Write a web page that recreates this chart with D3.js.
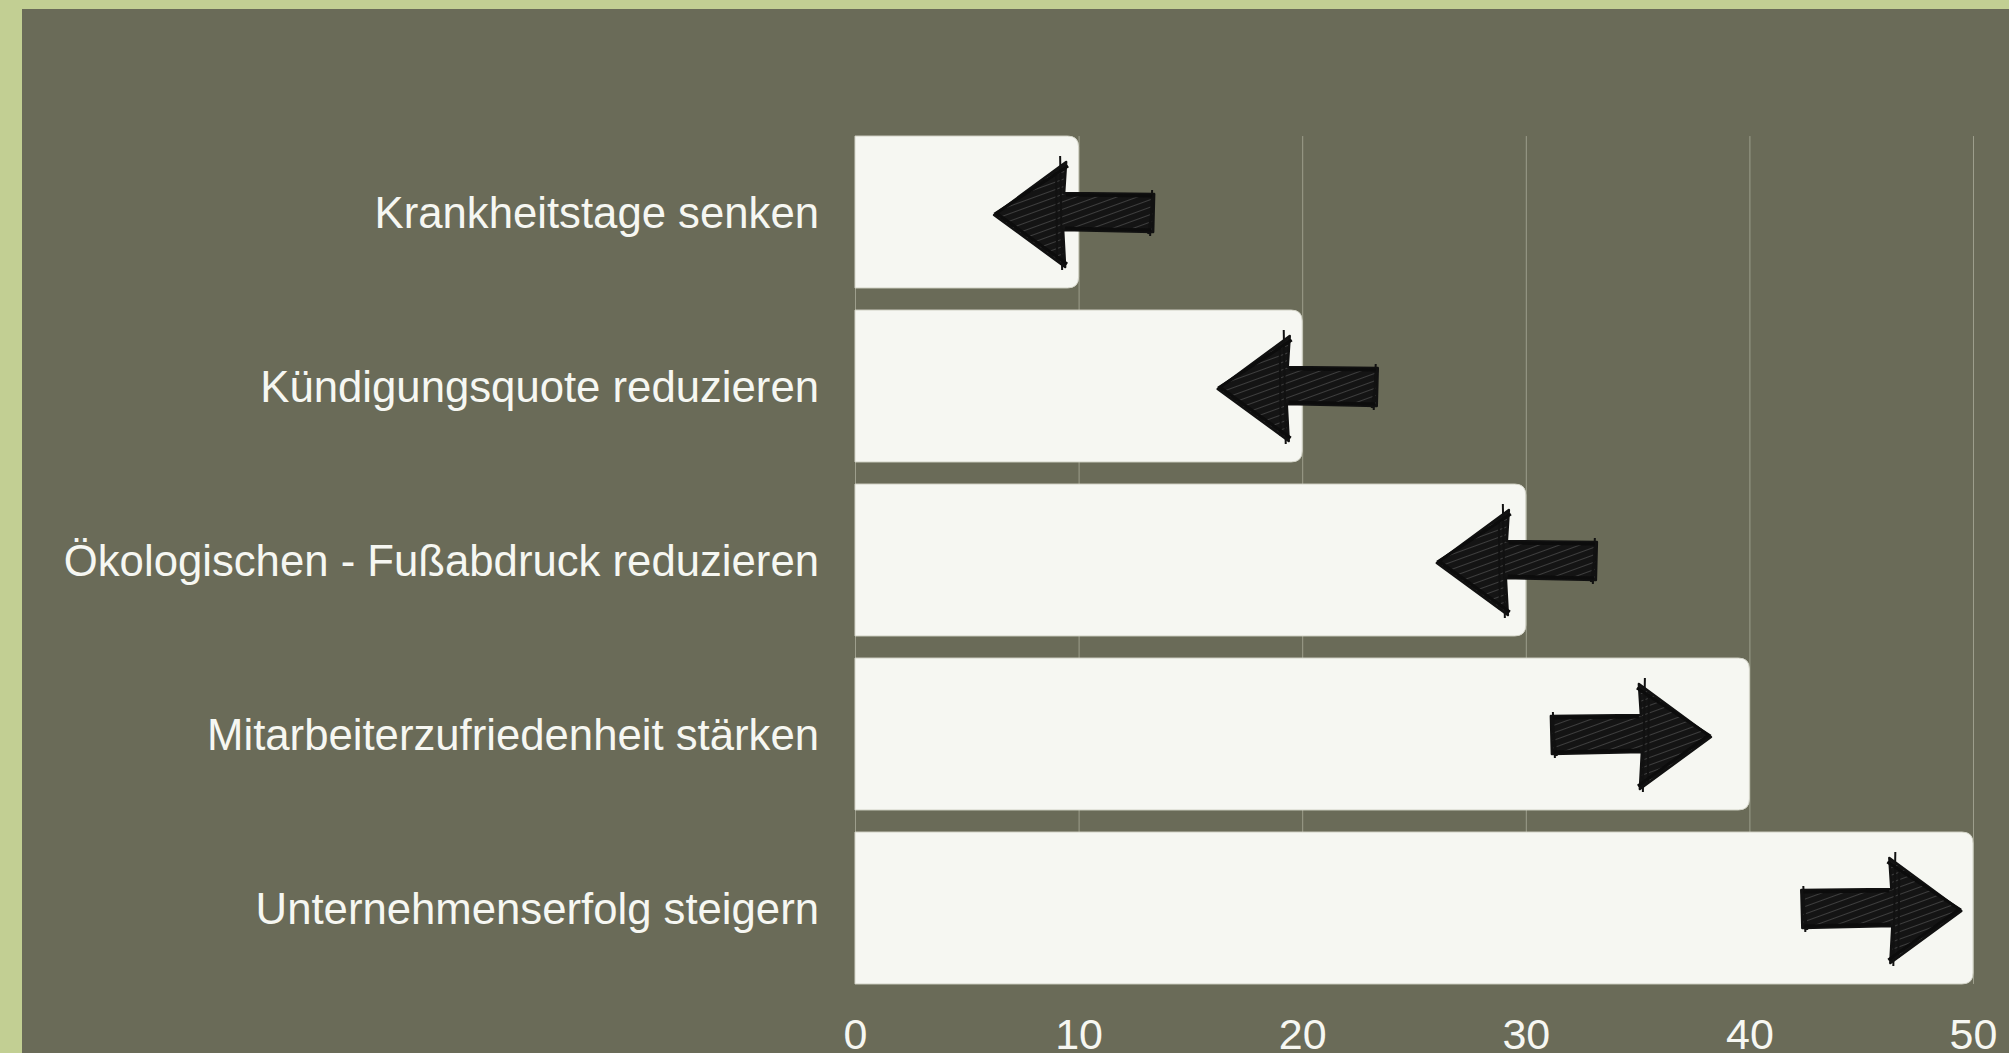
<!DOCTYPE html>
<html>
<head>
<meta charset="utf-8">
<script src="https://cdn.jsdelivr.net/npm/d3@7"></script>
<style>
  html, body { margin: 0; padding: 0; background: #c2cf93; }
  svg { display: block; }
</style>
</head>
<body>
<div id="chart"></div>
<script>
const categories = [
  'Krankheitstage senken',
  'Kündigungsquote reduzieren',
  'Ökologischen - Fußabdruck reduzieren',
  'Mitarbeiterzufriedenheit stärken',
  'Unternehmenserfolg steigern'
]
const values = [10, 20, 30, 40, 50]
// where the sketched arrow sits on each bar, and which way it points
const arrowAt = [9.8, 19.8, 29.6, 34.7, 45.9]
const arrowDir = ['left', 'left', 'left', 'right', 'right']
const xTicks = [0, 10, 20, 30, 40, 50]

const W = 2009, H = 1053

const svg = d3.select('#chart').append('svg')
  .attr('width', W)
  .attr('height', H)

// green frame + dark panel
svg.append('rect').attr('width', W).attr('height', H).attr('fill', '#c2cf93')
svg.append('rect').attr('x', 22).attr('y', 9).attr('width', W - 22).attr('height', H - 9).attr('fill', '#6a6b58')

const defs = svg.append('defs')
const hatch = defs.append('pattern')
  .attr('id', 'hatch')
  .attr('patternUnits', 'userSpaceOnUse')
  .attr('width', 7).attr('height', 7)
  .attr('patternTransform', 'rotate(70)')
hatch.append('rect').attr('width', 7).attr('height', 7).attr('fill', '#141414')
hatch.append('line').attr('x1', 0).attr('y1', 0).attr('x2', 0).attr('y2', 7)
  .attr('stroke', '#555', ).attr('stroke-width', 1.3)

const x = d3.scaleLinear().domain([0, 50]).range([855, 1973])
const y = d3.scaleBand().domain(categories).range([125, 995]).paddingInner(0.127).paddingOuter(0.0635)

const gridTop = y(categories[0])
const gridBottom = y(categories[categories.length - 1]) + y.bandwidth()

// vertical grid
svg.append('g').selectAll('line')
  .data(xTicks)
  .enter().append('line')
  .attr('x1', d => x(d) + 0.5).attr('x2', d => x(d) + 0.5)
  .attr('y1', gridTop).attr('y2', gridBottom)
  .attr('stroke', '#9d9e8c')
  .attr('stroke-width', 1)

// bars, rounded on the right end only
const barPath = (x0, x1, y0, h, r) =>
  `M${x0},${y0} H${x1 - r} Q${x1},${y0} ${x1},${y0 + r} V${y0 + h - r} Q${x1},${y0 + h} ${x1 - r},${y0 + h} H${x0} Z`

svg.append('g').selectAll('path')
  .data(categories)
  .enter().append('path')
  .attr('d', (d, i) => barPath(x(0), x(values[i]), y(d), y.bandwidth(), 11))
  .attr('fill', '#f6f7f2')
  .attr('stroke', '#d4d5c9')
  .attr('stroke-width', 1)

// category labels
svg.append('g').selectAll('text')
  .data(categories)
  .enter().append('text')
  .attr('x', x(0) - 36)
  .attr('y', d => y(d) + y.bandwidth() / 2 + 16)
  .attr('text-anchor', 'end')
  .attr('fill', '#f6f7f2')
  .style('font-family', '"Liberation Sans", Arial, sans-serif')
  .style('font-size', '43.7px')
  .text(d => d)

// sketchy arrows
const arrowShape = (s) => {
  // pointing right, centred at 0,0
  return `M${-80 * s},-18 L${10 * s},-19 L${8 * s},-50 L${80 * s},3 L${9 * s},55 L${11 * s},18 L${-79 * s},20 Z`
}
const arrows = svg.append('g').selectAll('g')
  .data(categories)
  .enter().append('g')
  .attr('transform', (d, i) => `translate(${x(arrowAt[i])},${y(d) + y.bandwidth() / 2})`)

arrows.append('path')
  .attr('d', (d, i) => arrowShape(arrowDir[i] === 'left' ? -1 : 1))
  .attr('fill', 'url(#hatch)')
  .attr('stroke', '#111')
  .attr('stroke-width', 2.5)
  .attr('stroke-linejoin', 'round')

// extra strokes for the hand-drawn look
arrows.append('path')
  .attr('d', (d, i) => {
    const s = arrowDir[i] === 'left' ? -1 : 1
    return `M${14 * s},-56 L${12 * s},58 M${18 * s},-40 L${17 * s},50 M${-78 * s},-22 L${-76 * s},24 M${-80 * s},-18 L${-74 * s},22`
  })
  .attr('fill', 'none')
  .attr('stroke', '#111')
  .attr('stroke-width', 2)

arrows.append('path')
  .attr('d', (d, i) => {
    const s = arrowDir[i] === 'left' ? -1 : 1
    return `M${6 * s},-46 L${78 * s},1 L${7 * s},52 M${-78 * s},-16 L${8 * s},-17 M${-77 * s},18 L${9 * s},16`
  })
  .attr('fill', 'none')
  .attr('stroke', '#0c0c0c')
  .attr('stroke-width', 3)

// x axis
const xAxis = d3.axisBottom(x).tickValues(xTicks).tickSize(0).tickPadding(0)
const ax = svg.append('g')
  .attr('transform', 'translate(0,1049)')
  .call(xAxis)
ax.select('.domain').remove()
ax.selectAll('text')
  .attr('y', 0).attr('dy', 0)
  .attr('fill', '#f6f7f2')
  .style('font-family', '"Liberation Sans", Arial, sans-serif')
  .style('font-size', '43px')
</script>
</body>
</html>
